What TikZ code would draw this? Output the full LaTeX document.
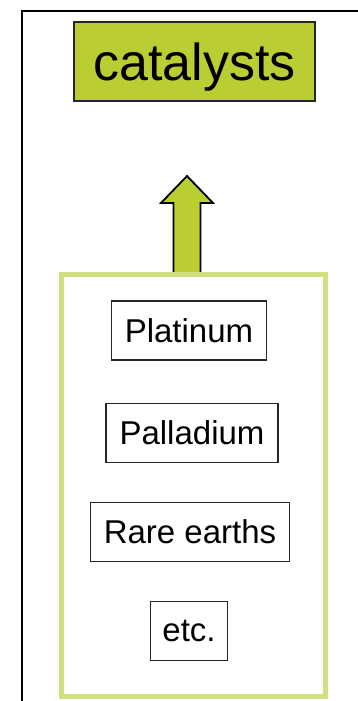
\documentclass[tikz,border=0pt]{standalone}
\usepackage{fontspec}
\setmainfont{Liberation Sans}
\usetikzlibrary{positioning,calc}
\definecolor{limegreen}{RGB}{186,206,52}
\definecolor{palelime}{RGB}{208,226,128}

\begin{document}
\begin{tikzpicture}[x=1pt, y=1pt,
    headbox/.style={draw=black!85, line width=1.3pt, fill=limegreen, minimum width=241pt, minimum height=79pt, inner sep=0pt, text depth=0pt, font=\fontsize{52}{56}\selectfont},
    metalbox/.style={draw=black!85, line width=1.2pt, fill=white, minimum height=59pt, inner xsep=13.5pt, inner ysep=0pt, font=\fontsize{33}{36}\selectfont},
    groupbox/.style={draw=palelime, line width=5pt, minimum width=264pt, minimum height=422pt, inner sep=0pt},
    blockarrow/.style={draw=black, line width=1.8pt, fill=limegreen, line join=miter},
    node distance=40pt]

    \useasboundingbox (0,0) rectangle (358,701);

    % frame
    \draw[line width=2.4pt] (22,0) -- (22,690) -- (358,690);

    \node[headbox] (catalysts) at (194.5,639.5) {catalysts};

    % arrow up from the group
    \coordinate (foot) at (187,426);
    \draw[blockarrow] ($(foot)+(-13.5,0)$) -- ++(0,72) -- ++(-12.5,0) -- ++(26,27) -- ++(26,-27) -- ++(-12.5,0) -- ++(0,-72);

    \node[groupbox] (metals) at (193,215) {};

    \node[metalbox] (platinum) at (189,370.5) {Platinum};
    \node[metalbox, below=42pt of platinum, xshift=3pt] (palladium) {Palladium};
    \node[metalbox, below=39pt of palladium, xshift=-2pt] (rare) {Rare earths};
    \node[metalbox, below=39pt of rare, xshift=-1pt, inner xsep=12pt] (etc) {etc.};

\end{tikzpicture}
\end{document}
